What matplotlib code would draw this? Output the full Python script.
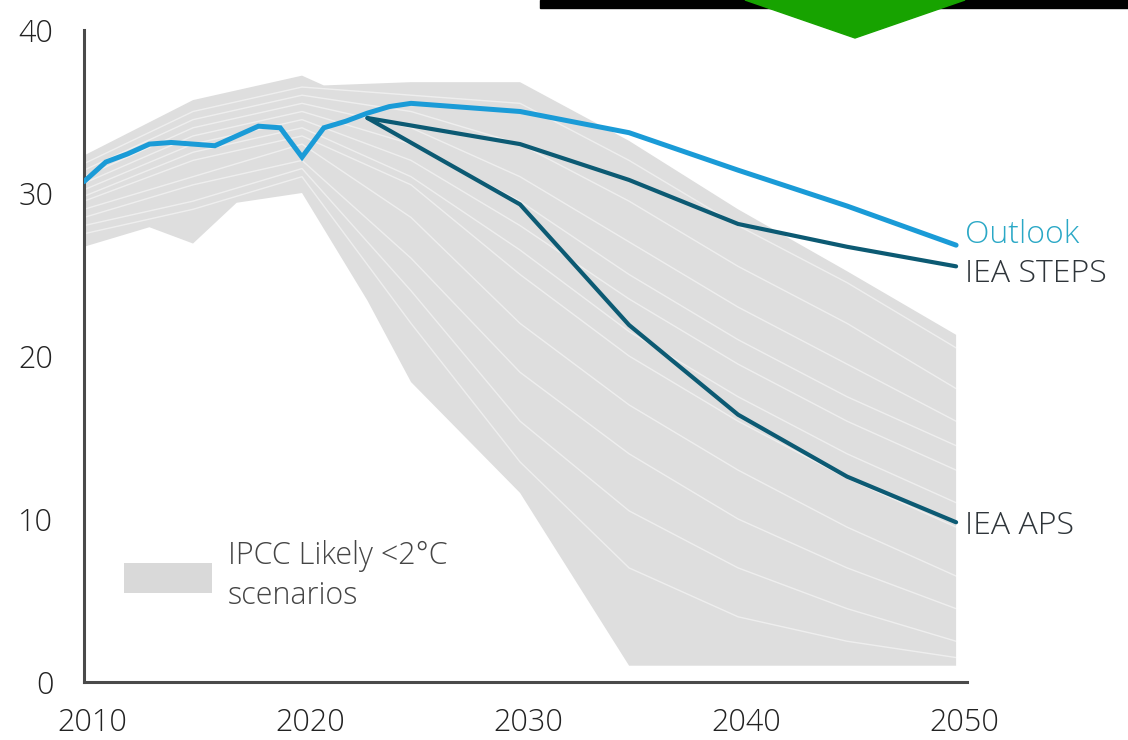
import numpy as np
import matplotlib
matplotlib.use("Agg")
import matplotlib.pyplot as plt
import matplotlib.transforms as mtransforms
from matplotlib.patches import Patch, Polygon, Rectangle

plt.rcParams['font.family'] = ['Open Sans', 'DejaVu Sans']
plt.rcParams['font.weight'] = 'light'

# IPCC likely <2C envelope (upper and lower edges)
band_up_years = [2010, 2015, 2020, 2021, 2025, 2030, 2035, 2040, 2045, 2050]
band_up = [32.3, 35.7, 37.2, 36.6, 36.8, 36.8, 33.2, 29.0, 25.2, 21.3]
band_lo_years = [2010, 2013, 2015, 2017, 2020, 2023, 2025, 2030, 2035, 2050]
band_lo = [26.7, 27.9, 26.9, 29.4, 30.0, 23.4, 18.4, 11.6, 1.0, 1.0]

# a few of the individual scenario traces inside the envelope
scen_years = [2010, 2015, 2020, 2025, 2030, 2035, 2040, 2045, 2050]
scenarios = [
    [31.8, 35.0, 36.5, 36.0, 35.5, 32.0, 28.0, 24.5, 20.5],
    [31.4, 34.5, 36.0, 35.0, 33.0, 29.5, 25.5, 22.0, 18.0],
    [31.0, 34.0, 35.5, 34.0, 31.0, 27.0, 23.0, 19.5, 16.0],
    [30.6, 33.5, 35.0, 33.0, 29.5, 25.0, 21.0, 17.5, 14.5],
    [30.2, 33.0, 34.5, 32.0, 28.0, 23.5, 19.5, 16.0, 13.0],
    [29.8, 32.5, 34.0, 31.0, 26.5, 21.5, 17.5, 14.0, 11.0],
    [29.5, 32.0, 33.5, 30.5, 25.0, 20.0, 16.0, 12.5, 9.5],
    [29.0, 31.0, 33.0, 28.5, 22.0, 17.0, 13.0, 9.5, 6.5],
    [28.5, 30.5, 32.0, 26.0, 19.0, 14.0, 10.0, 7.0, 4.5],
    [28.0, 29.5, 31.5, 24.0, 16.0, 10.5, 7.0, 4.5, 2.5],
    [27.5, 29.0, 31.0, 22.0, 13.5, 7.0, 4.0, 2.5, 1.5],
]

outlook_years = [2010, 2011, 2012, 2013, 2014, 2015, 2016, 2017, 2018, 2019, 2020,
                 2021, 2022, 2023, 2024, 2025, 2030, 2035, 2040, 2045, 2050]
outlook = [30.7, 31.9, 32.4, 33.0, 33.1, 33.0, 32.9, 33.5, 34.1, 34.0, 32.2,
           34.0, 34.4, 34.9, 35.3, 35.5, 35.0, 33.7, 31.4, 29.2, 26.8]

iea_years = [2023, 2030, 2035, 2040, 2045, 2050]
steps = [34.6, 33.0, 30.8, 28.1, 26.7, 25.5]
aps = [34.6, 29.3, 21.9, 16.4, 12.6, 9.8]

x_ticks = [2010, 2020, 2030, 2040, 2050]
y_ticks = [0, 10, 20, 30, 40]

BAND = "#dedede"
LIGHT_BLUE = "#1a9bd7"
DARK_TEAL = "#0c5a73"
TEXT = "#2f353a"

fig = plt.figure(figsize=(11.28, 7.4), dpi=100)
ax = fig.add_axes([84 / 1128, 1 - 682 / 740, (967 - 84) / 1128, (682 - 30) / 740])

# envelope
poly_x = np.r_[band_up_years, band_lo_years[::-1]]
poly_y = np.r_[band_up, band_lo[::-1]]
ax.fill(poly_x, poly_y, color=BAND, lw=0, zorder=1)
for s in scenarios:
    ax.plot(scen_years, s, color="white", lw=1.0, alpha=0.5, zorder=2)

ax.plot(iea_years, aps, color=DARK_TEAL, lw=3, solid_capstyle="round", zorder=3)
ax.plot(iea_years, steps, color=DARK_TEAL, lw=3, solid_capstyle="round", zorder=3)
ax.plot(outlook_years, outlook, color=LIGHT_BLUE, lw=3.6, solid_capstyle="round",
        solid_joinstyle="miter", zorder=4)

# series labels
ax.text(2050.4, 27.4, "Outlook", color="#2aa8c6", fontsize=23, va="center", clip_on=False)
ax.text(2050.4, 25.0, "IEA STEPS", color=TEXT, fontsize=23, va="center", clip_on=False)
ax.text(2050.4, 9.6, "IEA APS", color=TEXT, fontsize=23, va="center", clip_on=False)

ax.set_xlim(2010, 2050.5)
ax.set_ylim(0, 40)
ax.set_xticks(x_ticks)
ax.set_yticks(y_ticks)
ax.tick_params(length=0, labelsize=22, labelcolor="#222222")
ax.tick_params(axis="x", pad=18)
ax.tick_params(axis="y", pad=22)
offset = mtransforms.ScaledTranslation(8 / 100, 0, fig.dpi_scale_trans)
for lab in ax.get_xticklabels():
    lab.set_transform(lab.get_transform() + offset)

for side in ["top", "right"]:
    ax.spines[side].set_visible(False)
for side in ["left", "bottom"]:
    ax.spines[side].set_color("#4a4a4a")
    ax.spines[side].set_linewidth(2.2)

leg = ax.legend(handles=[Patch(facecolor="#d9d9d9", edgecolor="none")],
                labels=["IPCC Likely <2°C\nscenarios"],
                loc="upper left", bbox_to_anchor=(0.014, 0.26), frameon=False,
                fontsize=22, handlelength=2.9, handleheight=1.15, handletextpad=0.5,
                labelcolor="#454545")
for t in leg.get_texts():
    t.set_linespacing(1.35)

# banner fragment at the top
fig.patches.append(Rectangle((540 / 1128, 1 - 8 / 740), 588 / 1128, 8 / 740,
                             transform=fig.transFigure, color="black", zorder=10))
fig.patches.append(Polygon([(745 / 1128, 1.0), (965 / 1128, 1.0), (855 / 1128, 1 - 38 / 740)],
                           closed=True, transform=fig.transFigure, color="#17a300", zorder=11))

fig.savefig("out.png", dpi=100)
